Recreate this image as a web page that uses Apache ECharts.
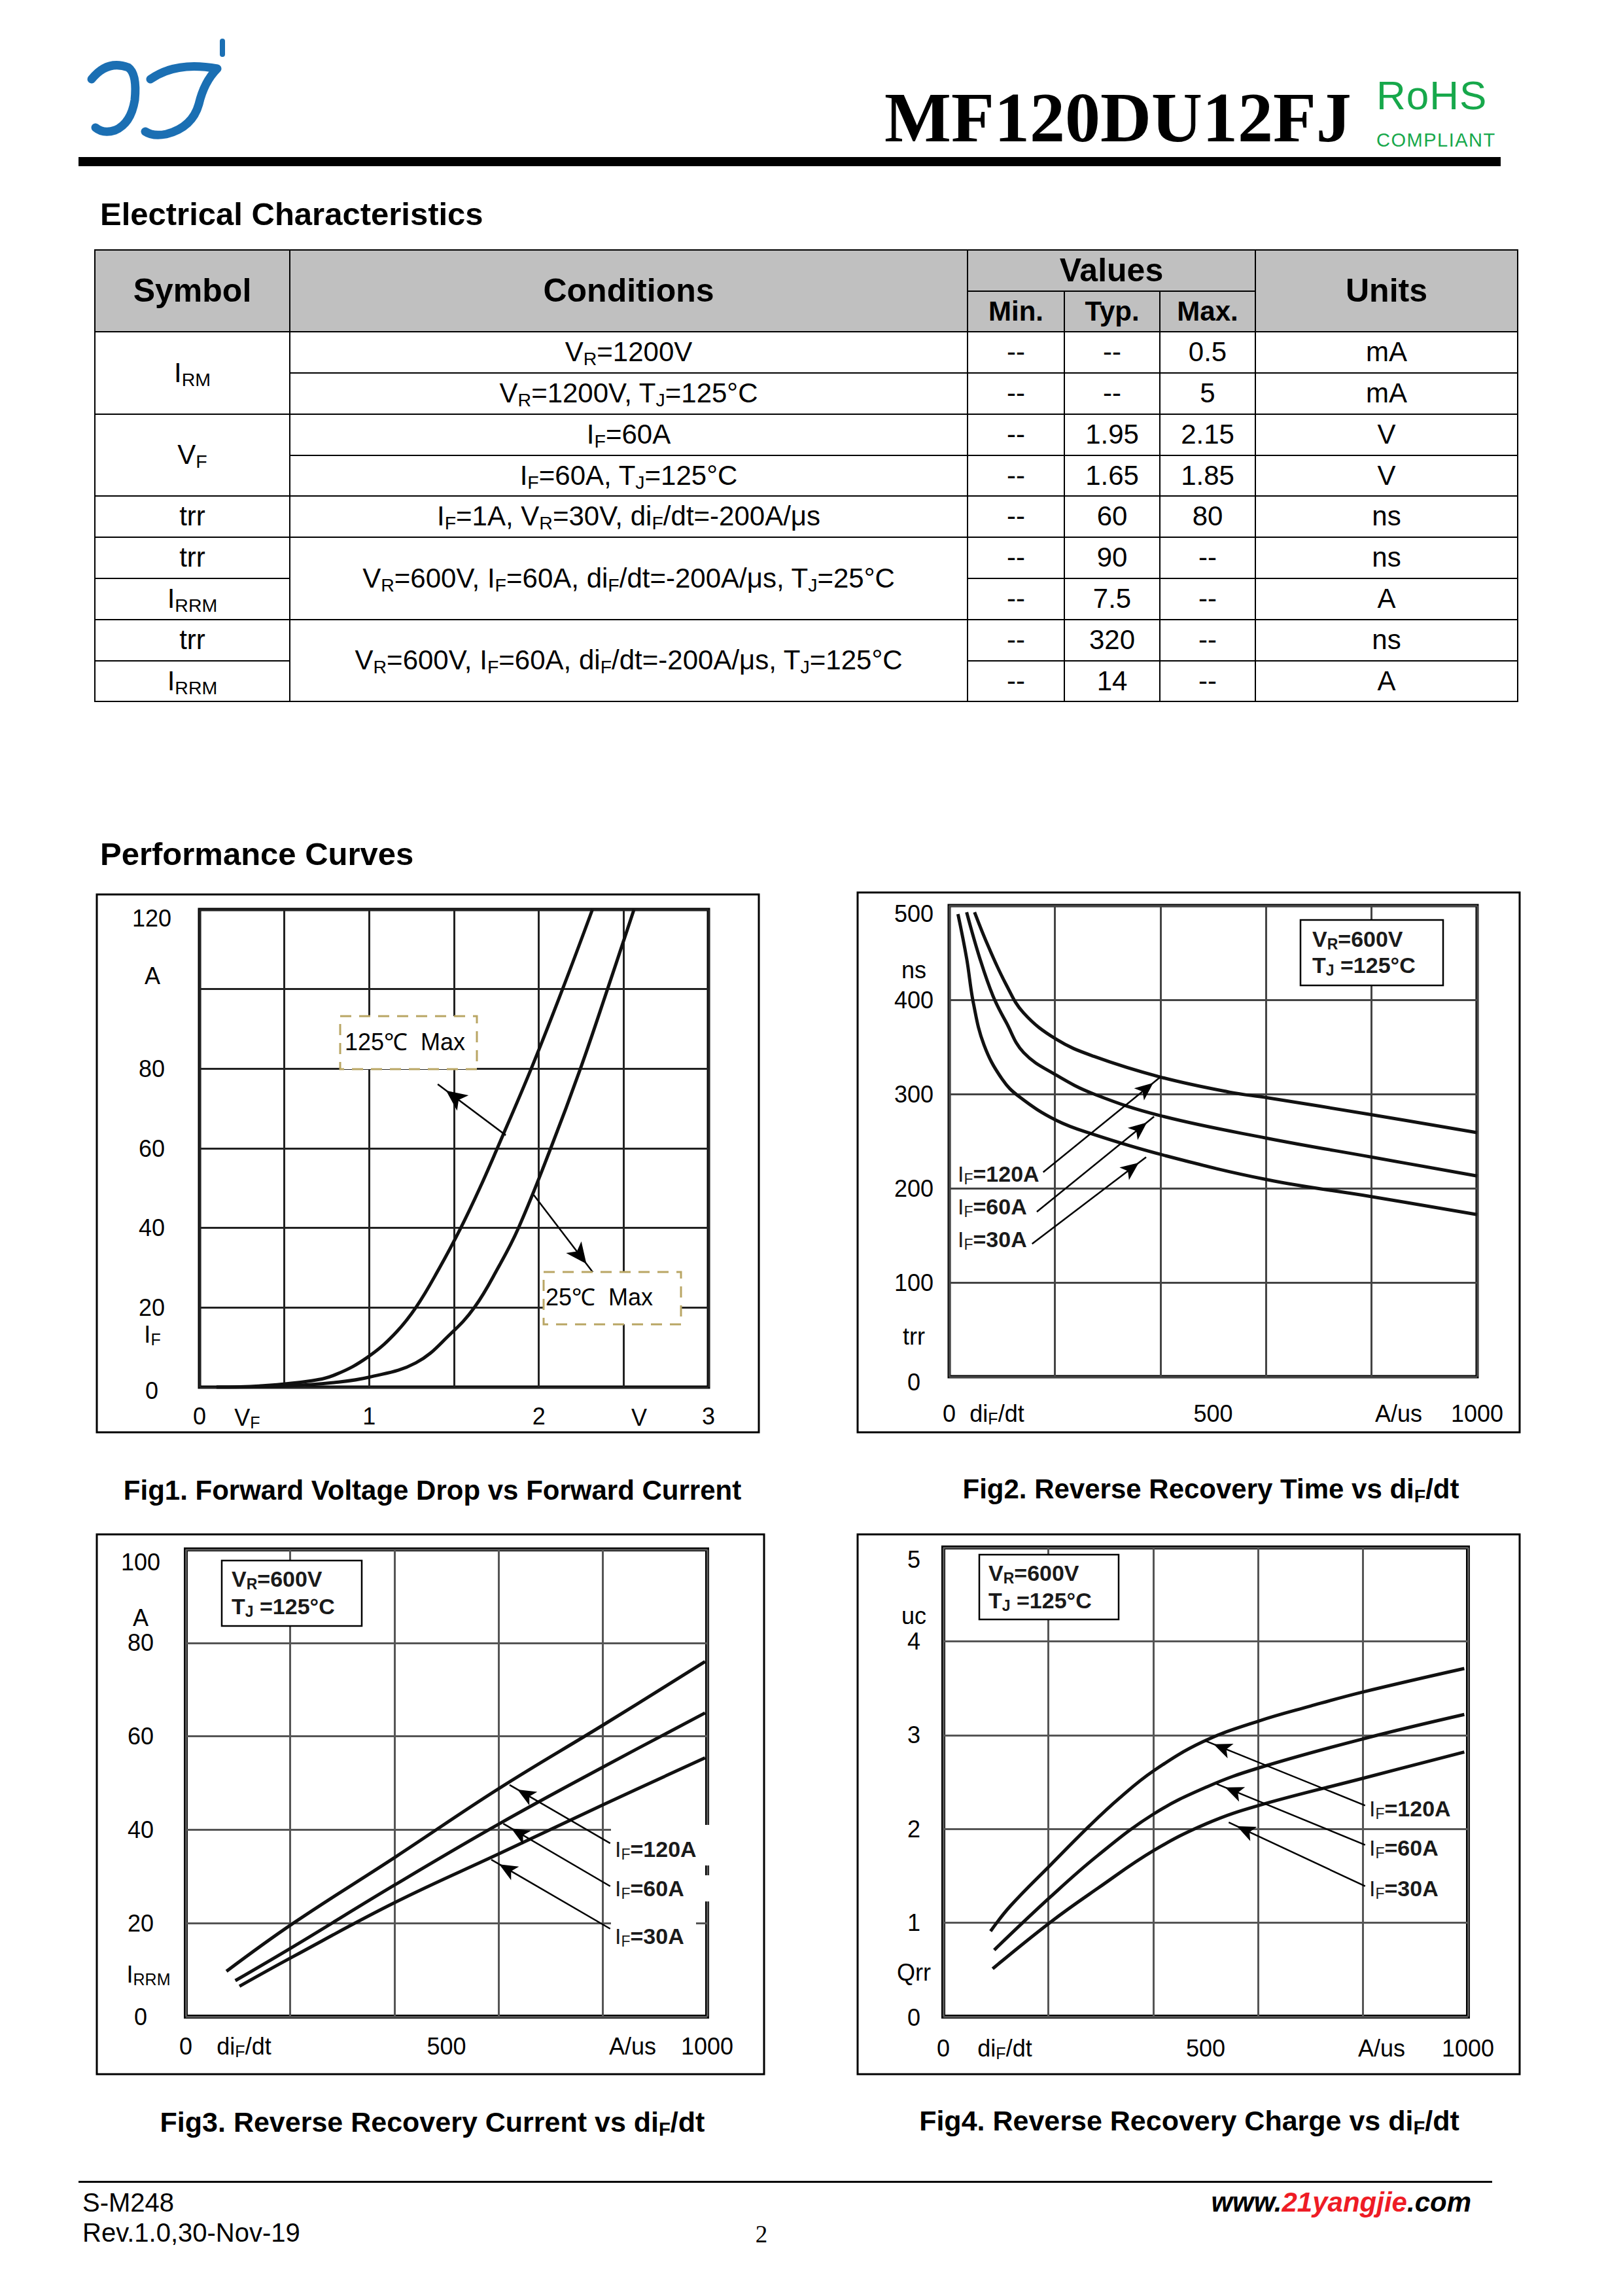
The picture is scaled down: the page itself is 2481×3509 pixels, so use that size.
<!DOCTYPE html>
<html><head><meta charset="utf-8">
<script src="https://cdn.jsdelivr.net/npm/echarts@6/dist/echarts.min.js"></script>
<style>
html,body{margin:0;padding:0;background:#fff;}
#page{position:relative;width:2481px;height:3509px;overflow:hidden;font-family:"Liberation Sans",Arial,sans-serif;color:#000;background:#fff;}
.t{position:absolute;white-space:nowrap;line-height:1;}
sub{font-size:0.68em;vertical-align:-0.2em;line-height:0;}
.cell{position:absolute;box-sizing:border-box;border:2px solid #000;display:flex;align-items:center;justify-content:center;font-size:42px;white-space:nowrap;background:#fff;}
.cell > span{display:inline-block;line-height:1.1;}
.hd{background:#c0c0c0;font-weight:bold;font-size:50px;}
.hd2{background:#c0c0c0;font-weight:bold;font-size:42px;}
#chart{position:absolute;left:0;top:0;width:2481px;height:3509px;}
</style></head>
<body><div id="page">
<svg style="position:absolute;left:130px;top:55px" width="240" height="170" viewBox="0 0 240 170">
 <g fill="none" stroke="#1b6fb3" stroke-linecap="round" stroke-linejoin="round">
  <path d="M10 66 Q34 36 66 48 Q80 58 76 98 Q70 134 46 144 Q28 150 16 140" stroke-width="13"/>
  <path d="M100 66 Q140 38 202 50 Q182 70 174 104 Q164 140 124 150 Q104 154 92 146" stroke-width="13"/>
  <path d="M210 8 L210 28" stroke-width="8"/>
 </g>
</svg>
<div id="chart"></div>
</div>
<script>
// ---------------- table data ----------------
const colX = [145, 443, 1479, 1627, 1773, 1919, 2320];
const rowY = [382, 445, 507, 570, 633, 696, 758, 821, 884, 947, 1010, 1072];
const headCells = [['Symbol',0,1,0,2,'hd'],['Conditions',1,2,0,2,'hd'],['Values',2,5,0,1,'hd'],['Min.',2,3,1,2,'hd2'],['Typ.',3,4,1,2,'hd2'],['Max.',4,5,1,2,'hd2'],['Units',5,6,0,2,'hd']];
const symbolCells = [['I<sub>RM</sub>',2,4],['V<sub>F</sub>',4,6],['trr',6,7],['trr',7,8],['I<sub>RRM</sub>',8,9],['trr',9,10],['I<sub>RRM</sub>',10,11]];
const conditionCells = [
  ['V<sub>R</sub>=1200V',2,3],
  ['V<sub>R</sub>=1200V, T<sub>J</sub>=125°C',3,4],
  ['I<sub>F</sub>=60A',4,5],
  ['I<sub>F</sub>=60A, T<sub>J</sub>=125°C',5,6],
  ['I<sub>F</sub>=1A, V<sub>R</sub>=30V, di<sub>F</sub>/dt=-200A/μs',6,7],
  ['V<sub>R</sub>=600V, I<sub>F</sub>=60A, di<sub>F</sub>/dt=-200A/μs, T<sub>J</sub>=25°C',7,9],
  ['V<sub>R</sub>=600V, I<sub>F</sub>=60A, di<sub>F</sub>/dt=-200A/μs, T<sub>J</sub>=125°C',9,11]
];
const minVals  = ['--','--','--','--','--','--','--','--','--'];
const typVals  = ['--','--','1.95','1.65','60','90','7.5','320','14'];
const maxVals  = ['0.5','5','2.15','1.85','80','--','--','--','--'];
const unitVals = ['mA','mA','V','V','ns','ns','A','ns','A'];

// ---------------- chart data ----------------
// Fig1: forward voltage (V) vs forward current (A)
const f1V125 = [0.10,0.35,0.66,0.81,0.99,1.146,1.275,1.415,1.54,1.652,1.755,1.955,2.14,2.316];
const f1I125 = [0,0.3,1.6,3.3,7.5,13.2,20,30,40,50,60,80,100,120];
const f1V25  = [0.10,0.50,0.80,1.00,1.275,1.48,1.62,1.76,1.88,2.07,2.245,2.405,2.561];
const f1I25  = [0,0.3,1.2,2.5,6.1,13.4,20,30,40,60,80,100,120];
const f1YTicks = ['0','20','40','60','80','','120'];
const f1XTicks = ['0','1','2','3'];
const f1Arrows = [[[1.805,63.3],[1.404,76.1]], [[1.970,48.3],[2.318,28.9]]];

// Fig2: trr (ns) vs diF/dt (A/us)
const f2X120 = [48,74.6,108,141,203,274,400,531,603,801,1000];
const f2Y120 = [493,456,416,386,358,340,318,302,296,278,259];
const f2X60  = [33,58,83,108,141,203,274,400,603,801,1000];
const f2Y60  = [493,444,404,376,344,320,300,277,253,233,213];
const f2X30  = [16.6,33,46,66,100,133,203,274,400,603,801,1000];
const f2Y30  = [491,444,396,352,316,297,272,257,236,209,191,172];
const f2Arrows = [[[178,217],[400,318]], [[166,175],[388,276]], [[157,141],[373,233]]];

// Fig3: IRRM (A) vs diF/dt
const f3X120 = [78,205,402.5,601.7,801.7,996];
const f3Y120 = [9.7,19.9,34.2,48.9,62.5,76];
const f3X60  = [95,205,402.5,601.7,801.7,996];
const f3Y60  = [7.7,14.9,28.3,41.3,53.5,65];
const f3X30  = [103,205,402.5,601.7,801.7,996];
const f3Y30  = [6.5,12.8,24.5,34.9,45.4,55.4];
const f3Arrows = [[[814,37.1],[621,49.6]], [[814,27.9],[609,41.3]], [[814,18.8],[586,33.6]]];

// Fig4: Qrr (uC) vs diF/dt
const f4X120 = [90,128,205,278,336,401,495,601,700,800,993];
const f4Y120 = [0.91,1.18,1.62,2.03,2.33,2.62,2.93,3.15,3.31,3.46,3.71];
const f4X60  = [97,205,295,401,503,601,800,993];
const f4Y60  = [0.71,1.28,1.72,2.16,2.45,2.65,2.96,3.22];
const f4X30  = [94,205,295,401,503,601,800,993];
const f4Y30  = [0.51,1.01,1.37,1.77,2.06,2.25,2.54,2.82];
const f4Arrows = [[[804,2.25],[499,2.94]], [[804,1.83],[521,2.48]], [[804,1.39],[544,2.07]]];

const xTicksDi = ['0','500','1000'];

// ---------------- HTML text + table ----------------
const page = document.getElementById('page');
function addText(html, x, cy, fs, align, extra) {
  const d = document.createElement('div');
  d.className = 't';
  d.innerHTML = html;
  d.style.fontSize = fs + 'px';
  d.style.top = (cy - fs * 0.5) + 'px';
  if (align === 'center') { d.style.left = (x - 1500) + 'px'; d.style.width = '3000px'; d.style.textAlign = 'center'; }
  else if (align === 'right') { d.style.right = (2481 - x) + 'px'; }
  else { d.style.left = x + 'px'; }
  if (extra) d.style.cssText += extra;
  page.appendChild(d);
}
function addBox(x, y, w, h) {
  const d = document.createElement('div');
  d.style.cssText = `position:absolute;left:${x}px;top:${y}px;width:${w}px;height:${h}px;background:#000;`;
  page.appendChild(d);
}
function addCell(html, c0, c1, r0, r1, cls) {
  const d = document.createElement('div');
  d.className = 'cell' + (cls ? ' ' + cls : '');
  d.innerHTML = '<span>' + html + '</span>';
  d.style.left = (colX[c0] - 1) + 'px';
  d.style.top = (rowY[r0] - 1) + 'px';
  d.style.width = (colX[c1] - colX[c0] + 2) + 'px';
  d.style.height = (rowY[r1] - rowY[r0] + 2) + 'px';
  page.appendChild(d);
}
// header
addText('MF120DU12FJ', 1352, 181, 108, 'left', 'font-family:"Liberation Serif","Times New Roman",serif;font-weight:bold;top:126px;');
addText('RoHS', 2104, 146, 62, 'left', 'color:#17a84b;letter-spacing:1px;');
addText('COMPLIANT', 2104, 214, 29, 'left', 'color:#17a84b;letter-spacing:1.5px;');
addBox(120, 240, 2174, 14);
addText('Electrical Characteristics', 153, 327, 49, 'left', 'font-weight:bold;');
addText('Performance Curves', 153, 1305, 49, 'left', 'font-weight:bold;');
headCells.forEach(c => addCell(c[0], c[1], c[2], c[3], c[4], c[5]));
symbolCells.forEach(c => addCell(c[0], 0, 1, c[1], c[2]));
conditionCells.forEach(c => addCell(c[0], 1, 2, c[1], c[2]));
for (let i = 0; i < 9; i++) {
  addCell(minVals[i], 2, 3, i + 2, i + 3);
  addCell(typVals[i], 3, 4, i + 2, i + 3);
  addCell(maxVals[i], 4, 5, i + 2, i + 3);
  addCell(unitVals[i], 5, 6, i + 2, i + 3);
}
// captions
addText('Fig1. Forward Voltage Drop vs Forward Current', 661, 2278, 42, 'center', 'font-weight:bold;');
addText('Fig2. Reverse Recovery Time vs di<sub>F</sub>/dt', 1851, 2276, 42, 'center', 'font-weight:bold;');
addText('Fig3. Reverse Recovery Current vs di<sub>F</sub>/dt', 661, 3243, 43, 'center', 'font-weight:bold;');
addText('Fig4. Reverse Recovery Charge vs di<sub>F</sub>/dt', 1818, 3241, 43, 'center', 'font-weight:bold;');
// footer
addBox(120, 3333, 2161, 3);
addText('S-M248', 126, 3366, 40, 'left');
addText('Rev.1.0,30-Nov-19', 126, 3412, 40, 'left');
addText('2', 1164, 3414, 37, 'center', 'font-family:"Liberation Serif",serif;');
addText('www.<span style="color:#ee1c25">21yangjie</span>.com', 2249, 3366, 42, 'right', 'font-weight:bold;font-style:italic;');

// ---------------- ECharts ----------------
const FONT = '"Liberation Sans", Arial, sans-serif';
const zip = (a, b) => a.map((v, i) => [v, b[i]]);

function arrowLine(arrs, size) {
  return {
    silent: true, symbol: ['none', 'arrow'], symbolSize: size, symbolOffset: [0, [0, size[1] / 2]],
    label: { show: false }, emphasis: { disabled: true }, animation: false,
    lineStyle: { color: '#000', width: 2.5, type: 'solid', opacity: 1 },
    data: arrs.map(a => [{ coord: a[0] }, { coord: a[1] }])
  };
}
function curve(xi, yi, xs, ys, ml) {
  return {
    type: 'line', xAxisIndex: xi, yAxisIndex: yi, data: zip(xs, ys), showSymbol: false, symbol: 'none',
    smooth: 0.4, silent: true, z: 3,
    lineStyle: { color: '#111', width: 5 }, markLine: ml
  };
}
function yAxisOf(gi, max, step, ticks, margin, topPad, botPad, splitColor) {
  return {
    gridIndex: gi, type: 'value', min: 0, max: max, interval: step,
    axisLine: { show: false }, axisTick: { show: false },
    splitLine: { show: true, lineStyle: { color: splitColor, width: 3 } },
    axisLabel: {
      show: true, align: 'center', margin: margin, fontSize: 36, fontFamily: FONT, color: '#000',
      formatter: v => {
        const s = ticks[Math.round(v / step)];
        if (!s) return '';
        if (Math.abs(v - max) < 1e-9) return '{t|' + s + '}';
        if (v === 0) return '{b|' + s + '}';
        return s;
      },
      rich: {
        t: { fontSize: 36, fontFamily: FONT, color: '#000', padding: [topPad, 0, 0, 0] },
        b: { fontSize: 36, fontFamily: FONT, color: '#000', padding: [botPad, 0, 0, 0] }
      }
    }
  };
}
function xGridAxis(gi, max, step, splitColor, labels, margin) {
  return {
    gridIndex: gi, type: 'value', min: 0, max: max, interval: step, position: 'bottom',
    axisLine: { show: false }, axisTick: { show: false },
    splitLine: { show: true, lineStyle: { color: splitColor, width: 3 } },
    axisLabel: labels ? {
      show: true, margin: margin, fontSize: 36, fontFamily: FONT, color: '#000',
      formatter: v => { return Number.isInteger(v) ? labels[v] : ''; }
    } : { show: false }
  };
}
function xLabelAxis(gi, margin) {
  return {
    gridIndex: gi, type: 'value', min: 0, max: 1000, interval: 500, position: 'bottom',
    axisLine: { show: false }, axisTick: { show: false }, splitLine: { show: false },
    axisLabel: { show: true, margin: margin, fontSize: 36, fontFamily: FONT, color: '#000',
      formatter: v => xTicksDi[Math.round(v / 500)] }
  };
}

// graphic helpers
function gText(x, y, text, style) {
  return { type: 'text', x: x, y: y, z: 100, silent: true,
    style: Object.assign({ text: text, fill: '#000', fontSize: 36, fontFamily: FONT, align: 'center', verticalAlign: 'middle' }, style || {}) };
}
const richUnit = {
  m: { fontSize: 36, fontFamily: FONT, fill: '#000', lineHeight: 40 },
  s: { fontSize: 25, fontFamily: FONT, fill: '#000', lineHeight: 26, verticalAlign: 'bottom' }
};
const richBold = {
  b: { fontSize: 34, fontFamily: FONT, fontWeight: 'bold', fill: '#1a1a1a', lineHeight: 38 },
  r: { fontSize: 34, fontFamily: FONT, fill: '#1a1a1a', lineHeight: 38 },
  s: { fontSize: 23, fontFamily: FONT, fontWeight: 'bold', fill: '#1a1a1a', lineHeight: 24, verticalAlign: 'bottom' },
  rs: { fontSize: 23, fontFamily: FONT, fill: '#1a1a1a', lineHeight: 24, verticalAlign: 'bottom' }
};
function uText(x, y, text) { return gText(x, y, text, { rich: richUnit }); }
function bText(x, y, text) { return gText(x, y, text, { rich: richBold, align: 'left' }); }
function gRect(x, y, w, h, style, z) {
  return { type: 'rect', z: z == null ? 90 : z, silent: true, shape: { x: x, y: y, width: w, height: h },
    style: Object.assign({ fill: '#fff', stroke: '#000', lineWidth: 3 }, style || {}) };
}
function outer(x, y, w, h) { return gRect(x, y, w, h, { fill: 'none', stroke: '#000', lineWidth: 3 }, 1); }
function legendBox(x, y, w, h, tx, y1, y2) {
  return [gRect(x, y, w, h, { lineWidth: 2.5 }),
    bText(tx, y1, '{b|V}{s|R}{b|=600V}'),
    bText(tx, y2, '{b|T}{s|J}{b| =125°C}')];
}
const IF = lab => '{r|I}{rs|F}{b|=' + lab + '}';

const graphics = [
  // Fig1
  outer(148, 1367, 1012, 822),
  uText(233, 1491, '{m|A}'), uText(233, 2039, '{m|I}{s|F}'),
  uText(378, 2166, '{m|V}{s|F}'), uText(977, 2166, '{m|V}'),
  gRect(520, 1553, 209, 81, { stroke: '#b9a664', lineWidth: 3, lineDash: [17, 12] }),
  gText(527, 1592, '125℃  Max', { align: 'left' }),
  gRect(831, 1944, 210, 80, { stroke: '#b9a664', lineWidth: 3, lineDash: [17, 12] }),
  gText(834, 1982, '25℃  Max', { align: 'left' }),
  // Fig2
  outer(1311, 1364, 1012, 825),
  uText(1397, 1482, '{m|ns}'), uText(1397, 2042, '{m|trr}'),
  uText(1524, 2160, '{m|di}{s|F}{m|/dt}'), uText(2138, 2160, '{m|A/us}'),
  ...legendBox(1988, 1406, 218, 100, 2006, 1435, 1475),
  bText(1464, 1794, IF('120A')), bText(1464, 1844, IF('60A')), bText(1464, 1894, IF('30A')),
  // Fig3
  outer(148, 2345, 1020, 825),
  uText(215, 2472, '{m|A}'), uText(227, 3017, '{m|I}{s|RRM}'),
  uText(373, 3127, '{m|di}{s|F}{m|/dt}'), uText(967, 3127, '{m|A/us}'),
  ...legendBox(339, 2385, 214, 100, 354, 2413, 2455),
  gRect(934, 2789, 152, 62, { fill: '#fff', stroke: 'none', lineWidth: 0 }, 80),
  gRect(934, 2866, 152, 40, { fill: '#fff', stroke: 'none', lineWidth: 0 }, 80),
  gRect(934, 2930, 130, 45, { fill: '#fff', stroke: 'none', lineWidth: 0 }, 80),
  bText(940, 2826, IF('120A')), bText(940, 2886, IF('60A')), bText(940, 2959, IF('30A')),
  // Fig4
  outer(1311, 2345, 1012, 825),
  uText(1397, 2469, '{m|uc}'), uText(1397, 3014, '{m|Qrr}'),
  uText(1536, 3130, '{m|di}{s|F}{m|/dt}'), uText(2112, 3130, '{m|A/us}'),
  ...legendBox(1497, 2376, 213, 99, 1511, 2404, 2446),
  bText(2093, 2764, IF('120A')), bText(2093, 2824, IF('60A')), bText(2093, 2886, IF('30A'))
];

const option = {
  animation: false,
  backgroundColor: 'transparent',
  grid: [
    { left: 305, top: 1390, width: 778, height: 730, show: true, borderColor: '#000', borderWidth: 5, backgroundColor: 'transparent' },
    { left: 1451, top: 1384, width: 807, height: 720, show: true, borderColor: '#000', borderWidth: 5, backgroundColor: 'transparent' },
    { left: 284, top: 2368, width: 797, height: 714, show: true, borderColor: '#000', borderWidth: 6, backgroundColor: 'transparent' },
    { left: 1442, top: 2365, width: 802, height: 717, show: true, borderColor: '#000', borderWidth: 6, backgroundColor: 'transparent' }
  ],
  xAxis: [
    xGridAxis(0, 3, 0.5, '#222', f1XTicks, 26),
    xGridAxis(1, 1000, 200, '#444', null), xLabelAxis(1, 38),
    xGridAxis(2, 1000, 200, '#555', null), xLabelAxis(2, 27),
    xGridAxis(3, 1000, 200, '#555', null), xLabelAxis(3, 30)
  ],
  yAxis: [
    yAxisOf(0, 120, 20, f1YTicks, 73, 26, 10, '#222'),
    yAxisOf(1, 500, 100, ['0','100','200','300','400','500'], 54, 24, 16, '#444'),
    yAxisOf(2, 100, 20, ['0','20','40','60','80','100'], 69, 38, 0, '#555'),
    yAxisOf(3, 5, 1, ['0','1','2','3','4','5'], 45, 36, 2, '#555')
  ],
  series: [
    curve(0, 0, f1V125, f1I125, arrowLine([f1Arrows[0]], [22, 32])),
    curve(0, 0, f1V25, f1I25, arrowLine([f1Arrows[1]], [22, 32])),
    curve(1, 1, f2X120, f2Y120, arrowLine([f2Arrows[0]], [18, 28])),
    curve(1, 1, f2X60, f2Y60, arrowLine([f2Arrows[1]], [18, 28])),
    curve(1, 1, f2X30, f2Y30, arrowLine([f2Arrows[2]], [18, 28])),
    curve(3, 2, f3X120, f3Y120, arrowLine([f3Arrows[0]], [18, 28])),
    curve(3, 2, f3X60, f3Y60, arrowLine([f3Arrows[1]], [18, 28])),
    curve(3, 2, f3X30, f3Y30, arrowLine([f3Arrows[2]], [18, 28])),
    curve(5, 3, f4X120, f4Y120, arrowLine([f4Arrows[0]], [18, 28])),
    curve(5, 3, f4X60, f4Y60, arrowLine([f4Arrows[1]], [18, 28])),
    curve(5, 3, f4X30, f4Y30, arrowLine([f4Arrows[2]], [18, 28]))
  ],
  graphic: { elements: graphics }
};
const chart = echarts.init(document.getElementById('chart'), null, { renderer: 'svg', width: 2481, height: 3509 });
chart.setOption(option);
</script>
</body></html>
